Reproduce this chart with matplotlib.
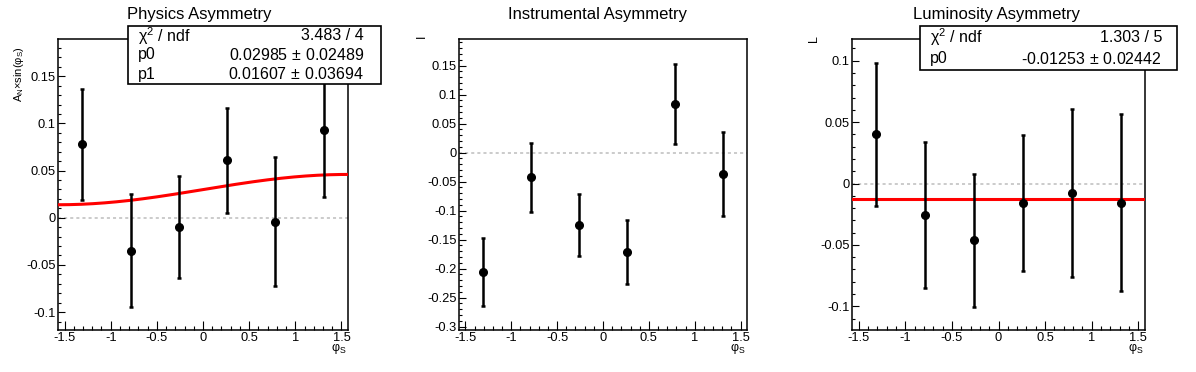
import numpy as np
import matplotlib
matplotlib.use("Agg")
import matplotlib.pyplot as plt
from matplotlib.patches import Rectangle
from matplotlib.ticker import MultipleLocator, FuncFormatter

plt.rcParams['font.family'] = ['Liberation Sans', 'DejaVu Sans']
plt.rcParams['mathtext.fontset'] = 'custom'
plt.rcParams['mathtext.rm'] = 'Liberation Sans'
plt.rcParams['mathtext.it'] = 'Liberation Sans:italic'
plt.rcParams['axes.unicode_minus'] = False

# bin centres in phi_S
phi_s = [-1.309, -0.785, -0.262, 0.262, 0.785, 1.309]

phys_val = [0.0777, -0.0348, -0.0094, 0.0607, -0.0040, 0.0926]
phys_err = [0.0585, 0.0595, 0.0540, 0.0560, 0.0685, 0.0705]
inst_val = [-0.2055, -0.0425, -0.1250, -0.1715, 0.0845, -0.0372]
inst_err = [0.0590, 0.0595, 0.0535, 0.0555, 0.0690, 0.0720]
lumi_val = [0.0400, -0.0259, -0.0463, -0.0161, -0.0080, -0.0156]
lumi_err = [0.0580, 0.0595, 0.0540, 0.0555, 0.0685, 0.0720]

# fit results
phys_p0, phys_p1 = 0.02985, 0.01607
lumi_p0 = -0.01253

titles = ["Physics Asymmetry", "Instrumental Asymmetry", "Luminosity Asymmetry"]
ylabels = [r"$\mathregular{A_{N}{\times}sin(φ_{S})}$", "I", "L"]

W, H = 1196, 372


def fx(px):
    return px / W


def fy(py):
    return 1 - py / H


def panel(fig, rect_px, vals, errs, ylim):
    l, t, r, b = rect_px
    ax = fig.add_axes([fx(l), fy(b), fx(r - l), (b - t) / H])
    ax.set_xlim(-np.pi / 2, np.pi / 2)
    ax.set_ylim(*ylim)
    ax.axhline(0, color='#bdbdbd', lw=1.1, ls=(0, (2, 2)), zorder=1)
    ax.errorbar(phi_s, vals, yerr=errs, fmt='o', color='black', ms=5.5,
                elinewidth=1.8, capsize=1.5, capthick=1.8, zorder=4)
    ax.xaxis.set_major_locator(MultipleLocator(0.5))
    ax.xaxis.set_minor_locator(MultipleLocator(0.1))
    ax.yaxis.set_major_locator(MultipleLocator(0.05))
    ax.yaxis.set_minor_locator(MultipleLocator(0.01))
    fmt = FuncFormatter(lambda v, p: "%g" % round(v, 6))
    ax.xaxis.set_major_formatter(fmt)
    ax.yaxis.set_major_formatter(fmt)
    ax.tick_params(axis='both', which='both', direction='in', top=False,
                   right=False, labelsize=9.3, width=0.8)
    ax.tick_params(axis='x', which='major', length=6.3, pad=1.5)
    ax.tick_params(axis='x', which='minor', length=3)
    ax.tick_params(axis='y', which='major', length=4.8, pad=1.5)
    ax.tick_params(axis='y', which='minor', length=2.4)
    for s in ax.spines.values():
        s.set_linewidth(1.1)
    fig.text(fx(r - 1), fy(342), r"$\mathregular{φ_{S}}$", ha='right',
             va='top', fontsize=9)
    return ax


def stats_box(fig, box_px, rows, text_px):
    l, t, r, b = box_px
    fig.patches.append(Rectangle((fx(l), fy(b)), fx(r - l), (b - t) / H,
                                 transform=fig.transFigure, facecolor='white',
                                 edgecolor='black', lw=1.2, zorder=5))
    tl, tr = text_px
    step = (b - t) / len(rows)
    for i, (name, value) in enumerate(rows):
        yc = fy(t + step * (i + 0.5))
        fig.text(fx(tl), yc, name, ha='left', va='center', fontsize=11.5,
                 zorder=6)
        fig.text(fx(tr), yc, value, ha='right', va='center', fontsize=11.5,
                 zorder=6)


fig = plt.figure(figsize=(W / 100, H / 100), dpi=100)

ax1 = panel(fig, (58, 39, 348, 330), phys_val, phys_err, (-0.119, 0.1895))
xx = np.linspace(-np.pi / 2, np.pi / 2, 200)
ax1.plot(xx, phys_p0 + phys_p1 * np.sin(xx), color='#ff0000', lw=2.2, zorder=3)

ax2 = panel(fig, (459, 39, 747, 330), inst_val, inst_err, (-0.306, 0.196))

ax3 = panel(fig, (852, 39, 1145, 330), lumi_val, lumi_err, (-0.1193, 0.1177))
ax3.plot([-np.pi / 2, np.pi / 2], [lumi_p0, lumi_p0], color='#ff0000', lw=2.2,
         zorder=3)

for i, t in enumerate(titles):
    fig.text(fx(199 + 398.7 * i), fy(14), t, ha='center', va='center',
             fontsize=12)

fig.text(fx(19), fy(46), ylabels[0], rotation=90, ha='center', va='top',
         fontsize=8)
fig.text(fx(422), fy(35), ylabels[1], rotation=90, ha='center', va='top',
         fontsize=9)
fig.text(fx(814), fy(35), ylabels[2], rotation=90, ha='center', va='top',
         fontsize=9)

pm = r"$\mathregular{\,\pm\,}$"
stats_box(fig, (128, 26, 381, 84),
          [(r"$\mathregular{\chi^{2}}$ / ndf", "3.483 / 4"),
           ("p0", "0.02985" + pm + "0.02489"),
           ("p1", "0.01607" + pm + "0.03694")],
          (138, 364))
stats_box(fig, (920, 26, 1177, 70),
          [(r"$\mathregular{\chi^{2}}$ / ndf", "1.303 / 5"),
           ("p0", "-0.01253" + pm + "0.02442")],
          (930, 1162))

fig.savefig("out.png", dpi=100)
